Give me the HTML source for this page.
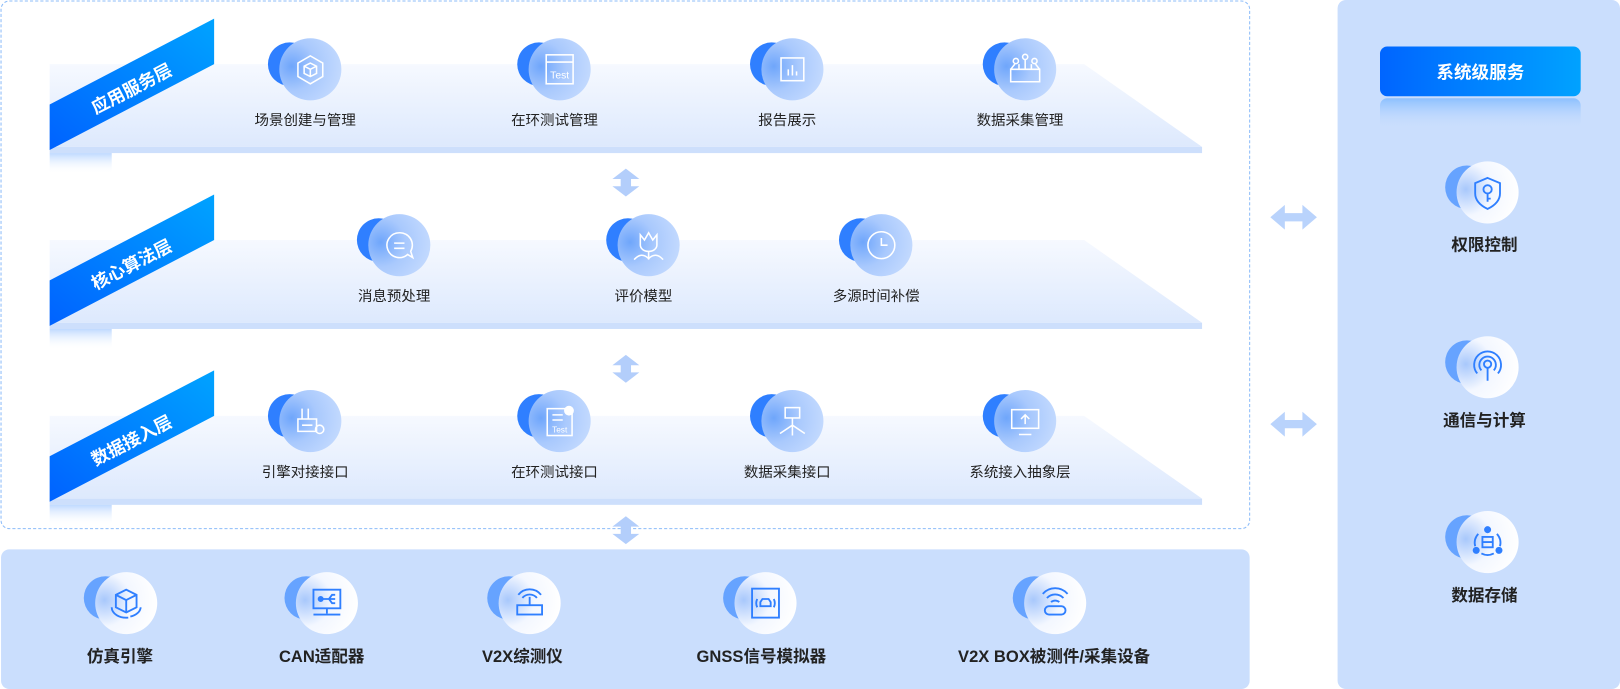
<!DOCTYPE html>
<html><head><meta charset="utf-8"><style>
html,body{margin:0;padding:0;background:#fff;width:1620px;height:689px;overflow:hidden}
svg{display:block}
text{font-family:"Liberation Sans","Noto Sans CJK SC",sans-serif}
</style></head><body>
<svg width="1620" height="689" viewBox="0 0 1566 666" preserveAspectRatio="none" xmlns="http://www.w3.org/2000/svg">
<defs>
<linearGradient id="band" x1="0" y1="0" x2="0" y2="1"><stop offset="0" stop-color="#f6f9ff"/><stop offset="1" stop-color="#dde9fd"/></linearGradient>
<linearGradient id="rib" x1="0" y1="1" x2="1" y2="0"><stop offset="0" stop-color="#0062ff"/><stop offset="1" stop-color="#00a3ff"/></linearGradient>
<linearGradient id="ribfade" x1="0" y1="0" x2="0" y2="1"><stop offset="0" stop-color="#7fb4ff"/><stop offset="1" stop-color="#ffffff" stop-opacity="0"/></linearGradient>
<linearGradient id="btn" x1="0" y1="0" x2="1" y2="0"><stop offset="0" stop-color="#0065ff"/><stop offset="1" stop-color="#00a2ff"/></linearGradient>
<linearGradient id="btnr" x1="0" y1="0" x2="0" y2="1"><stop offset="0" stop-color="#8cc0ff"/><stop offset="1" stop-color="#cadefd" stop-opacity="0"/></linearGradient>
<radialGradient id="fcL" cx="0.2" cy="0.45" r="0.8"><stop offset="0" stop-color="#6fa6fb"/><stop offset="0.5" stop-color="#a9c9fd"/><stop offset="1" stop-color="#c2d9fe"/></radialGradient>
<radialGradient id="fcW" cx="0.15" cy="0.45" r="0.85"><stop offset="0" stop-color="#a8c8fc"/><stop offset="0.5" stop-color="#f3f7ff"/><stop offset="1" stop-color="#ffffff"/></radialGradient>
<g id="varr"><polygon points="13,0 26,10 18,10 18,17 26,17 13,27 0,17 8,17 8,10 0,10" fill="#b3cefb"/></g>
<g id="harr"><polygon points="0,12 14,0 14,8 31,8 31,0 45,12 31,24 31,16 14,16 14,24" fill="#b9d3fc"/></g>
</defs>

<!-- dashed container -->
<rect x="1" y="1" width="1207" height="510" rx="8" fill="none" stroke="#8cbcf9" stroke-dasharray="3,2"/>

<!-- bands -->
<g id="b1">
<polygon points="48,62 1048,62 1162,142 48,142" fill="url(#band)"/>
<rect x="48" y="142" width="1114" height="6" fill="#cddffc"/>
<rect x="48" y="148" width="60" height="20" fill="url(#ribfade)" opacity="0.5"/>
<polygon points="48,101 207,18 207,62 48,145" fill="url(#rib)"/>
<text x="0" y="0" transform="translate(130,91) rotate(-27.5)" text-anchor="middle" font-size="17" font-weight="bold" fill="#fff">应用服务层</text>
</g>
<g transform="translate(0,170)">
<polygon points="48,62 1048,62 1162,142 48,142" fill="url(#band)"/>
<rect x="48" y="142" width="1114" height="6" fill="#cddffc"/>
<rect x="48" y="148" width="60" height="20" fill="url(#ribfade)" opacity="0.5"/>
<polygon points="48,101 207,18 207,62 48,145" fill="url(#rib)"/>
<text x="0" y="0" transform="translate(130,91) rotate(-27.5)" text-anchor="middle" font-size="17" font-weight="bold" fill="#fff">核心算法层</text>
</g>
<g transform="translate(0,340)">
<polygon points="48,62 1048,62 1162,142 48,142" fill="url(#band)"/>
<rect x="48" y="142" width="1114" height="6" fill="#cddffc"/>
<rect x="48" y="148" width="60" height="20" fill="url(#ribfade)" opacity="0.5"/>
<polygon points="48,101 207,18 207,62 48,145" fill="url(#rib)"/>
<text x="0" y="0" transform="translate(130,91) rotate(-27.5)" text-anchor="middle" font-size="17" font-weight="bold" fill="#fff">数据接入层</text>
</g>

<!-- vertical arrows -->
<use href="#varr" x="592" y="163"/>
<use href="#varr" x="592" y="343"/>
<use href="#varr" x="592" y="499"/>
<!-- horizontal arrows -->
<use href="#harr" x="1228" y="198"/>
<use href="#harr" x="1228" y="398"/>

<!-- layer icons (blue style) -->
<g fill="none" stroke="#fff" stroke-width="1.5">
<g transform="translate(300,67)"><circle cx="-20" cy="-5" r="21" fill="#2f7fff" stroke="none"/><circle r="30" fill="url(#fcL)" stroke="none"/><polygon points="0,-13 12,-6 12,7 0,14 -12,7 -12,-6"/><path d="M-6,-3 L0,-6 L6,-3 L6,4 L0,7 L-6,4Z M-6,-3 L0,0 L6,-3 M0,0 V7"/></g>
<g transform="translate(541,67)"><circle cx="-20" cy="-5" r="21" fill="#2f7fff" stroke="none"/><circle r="30" fill="url(#fcL)" stroke="none"/><rect x="-13" y="-14" width="26" height="28"/><line x1="-13" y1="-7" x2="13" y2="-7"/><text x="0" y="9" text-anchor="middle" font-size="10" fill="#fff" stroke="none">Test</text></g>
<g transform="translate(766,67)"><circle cx="-20" cy="-5" r="21" fill="#2f7fff" stroke="none"/><circle r="30" fill="url(#fcL)" stroke="none"/><rect x="-11" y="-11" width="22" height="22"/><path d="M-4,6V0 M0,6V-4 M4,6V2"/></g>
<g transform="translate(991,67)"><circle cx="-20" cy="-5" r="21" fill="#2f7fff" stroke="none"/><circle r="30" fill="url(#fcL)" stroke="none"/><path d="M-14,0 H14 V12 H-14Z M-14,0 L-10,-5 M14,0 L10,-5 M-6,0V-5 M0,0V-9 M6,0V-5"/><circle cx="-9" cy="-8" r="2.5"/><circle cx="0" cy="-12" r="2.5"/><circle cx="9" cy="-8" r="2.5"/></g>

<g transform="translate(386,237)"><circle cx="-20" cy="-5" r="21" fill="#2f7fff" stroke="none"/><circle r="30" fill="url(#fcL)" stroke="none"/><path d="M0,-12 A12,12 0 1 0 8,9 L13,12 L11,6 A12,12 0 0 0 0,-12Z M-5,-2H5 M-5,3H5"/></g>
<g transform="translate(627,237)"><circle cx="-20" cy="-5" r="21" fill="#2f7fff" stroke="none"/><circle r="30" fill="url(#fcL)" stroke="none"/><path d="M-8,-10 L-4,-5 L0,-12 L4,-5 L8,-10 V0 A8,6 0 0 1 -8,0Z M0,6V14 M-14,14 Q-7,6 0,13 Q7,6 14,14"/></g>
<g transform="translate(852,237)"><circle cx="-20" cy="-5" r="21" fill="#2f7fff" stroke="none"/><circle r="30" fill="url(#fcL)" stroke="none"/><circle r="13"/><path d="M0,-7 V0 H6"/></g>

<g transform="translate(300,407)"><circle cx="-20" cy="-5" r="21" fill="#2f7fff" stroke="none"/><circle r="30" fill="url(#fcL)" stroke="none"/><path d="M-12,-2 H6 V10 H-12Z M-8,-2V-12 M-2,-2V-12 M-8,4H2"/><circle cx="9" cy="8" r="4"/></g>
<g transform="translate(541,407)"><circle cx="-20" cy="-5" r="21" fill="#2f7fff" stroke="none"/><circle r="30" fill="url(#fcL)" stroke="none"/><rect x="-12" y="-12" width="24" height="26"/><path d="M-7,-6H3 M-7,-1H3"/><circle cx="9" cy="-10" r="4" fill="#fff"/><text x="0" y="11" text-anchor="middle" font-size="8" fill="#fff" stroke="none">Test</text></g>
<g transform="translate(766,407)"><circle cx="-20" cy="-5" r="21" fill="#2f7fff" stroke="none"/><circle r="30" fill="url(#fcL)" stroke="none"/><rect x="-7" y="-13" width="14" height="10"/><path d="M0,-3V14 M0,4 L-12,12 M0,4 L12,12"/></g>
<g transform="translate(991,407)"><circle cx="-20" cy="-5" r="21" fill="#2f7fff" stroke="none"/><circle r="30" fill="url(#fcL)" stroke="none"/><rect x="-13" y="-11" width="26" height="18"/><path d="M0,3V-6 M-4,-2 L0,-6 L4,-2 M-6,13H6"/></g>
</g>

<!-- layer labels -->
<g font-size="14" fill="#222" text-anchor="middle">
<text x="295" y="121">场景创建与管理</text>
<text x="536" y="121">在环测试管理</text>
<text x="761" y="121">报告展示</text>
<text x="986" y="121">数据采集管理</text>
<text x="381" y="291">消息预处理</text>
<text x="622" y="291">评价模型</text>
<text x="847" y="291">多源时间补偿</text>
<text x="295" y="461">引擎对接接口</text>
<text x="536" y="461">在环测试接口</text>
<text x="761" y="461">数据采集接口</text>
<text x="986" y="461">系统接入抽象层</text>
</g>

<!-- bottom panel -->
<rect x="1" y="531" width="1207" height="135" rx="8" fill="#cadefd"/>
<!-- right panel -->
<rect x="1293" y="0" width="273" height="666" rx="8" fill="#cadefd"/>
<rect x="1334" y="45" width="194" height="48" rx="7" fill="url(#btn)"/>
<rect x="1334" y="95" width="194" height="30" rx="7" fill="url(#btnr)"/>
<text x="1431" y="76" text-anchor="middle" font-size="17" font-weight="bold" fill="#fff">系统级服务</text>

<g fill="none" stroke="#2f7fff" stroke-width="1.8">
<g transform="translate(122,583)"><circle cx="-20" cy="-5" r="21" fill="#66a3ff" stroke="none"/><circle r="30" fill="url(#fcW)" stroke="none"/><path d="M0,-13 L10,-8 V4 L0,9 L-10,4 V-8Z M-10,-8 L0,-3 L10,-8 M0,-3V9"/><path d="M-14,4 A14,10 0 0 0 2,14 M14,4 A14,10 0 0 1 4,13"/></g>
<g transform="translate(316,583)"><circle cx="-20" cy="-5" r="21" fill="#66a3ff" stroke="none"/><circle r="30" fill="url(#fcW)" stroke="none"/><rect x="-13" y="-13" width="26" height="18"/><path d="M0,5V10 M-13,11H13 M-6,-4H8 M2,-4 L5,-8 H8 M2,-4 L5,0 H8"/><circle cx="-6" cy="-4" r="2" fill="#2f7fff"/></g>
<g transform="translate(512,583)"><circle cx="-20" cy="-5" r="21" fill="#66a3ff" stroke="none"/><circle r="30" fill="url(#fcW)" stroke="none"/><rect x="-12" y="2" width="24" height="9"/><path d="M0,2V-6 M-7,-5 A9,9 0 0 1 7,-5 M-11,-8 A14,14 0 0 1 11,-8"/></g>
<g transform="translate(740,583)"><circle cx="-20" cy="-5" r="21" fill="#66a3ff" stroke="none"/><circle r="30" fill="url(#fcW)" stroke="none"/><rect x="-13" y="-14" width="26" height="28"/><path d="M-5,3 V-1 L-3,-4 H3 L5,-1 V3Z M-8,-4 Q-10,0 -8,4 M8,-4 Q10,0 8,4"/></g>
<g transform="translate(1020,583)"><circle cx="-20" cy="-5" r="21" fill="#66a3ff" stroke="none"/><circle r="30" fill="url(#fcW)" stroke="none"/><rect x="-10" y="3" width="20" height="8" rx="4"/><path d="M-4,-1 A6,6 0 0 1 4,-1 M-8,-5 A11,11 0 0 1 8,-5 M-12,-9 A16,16 0 0 1 12,-9"/></g>

<g transform="translate(1438,186)"><circle cx="-20" cy="-5" r="21" fill="#66a3ff" stroke="none"/><circle r="30" fill="url(#fcW)" stroke="none"/><path d="M0,-14 L12,-9 V1 Q12,10 0,16 Q-12,10 -12,1 V-9Z"/><circle cx="0" cy="-3" r="4"/><path d="M0,1V9 M0,6H3"/></g>
<g transform="translate(1438,355)"><circle cx="-20" cy="-5" r="21" fill="#66a3ff" stroke="none"/><circle r="30" fill="url(#fcW)" stroke="none"/><circle cx="0" cy="-3" r="3.5"/><path d="M0,1V13 M-6,3 A8,8 0 1 1 6,3 M-10,6 A13,13 0 1 1 10,6"/></g>
<g transform="translate(1438,524)"><circle cx="-20" cy="-5" r="21" fill="#66a3ff" stroke="none"/><circle r="30" fill="url(#fcW)" stroke="none"/><rect x="-5" y="-5" width="10" height="10"/><path d="M-5,0H5 M-9,-8 A13,13 0 0 0 -12,4 M9,-8 A13,13 0 0 1 12,4 M-6,11 A13,13 0 0 0 6,11"/><circle cx="0" cy="-12" r="2.5" fill="#2f7fff"/><circle cx="-11" cy="8" r="2.5" fill="#2f7fff"/><circle cx="11" cy="8" r="2.5" fill="#2f7fff"/></g>
</g>

<g font-size="16" font-weight="bold" fill="#222" text-anchor="middle">
<text x="116" y="640">仿真引擎</text>
<text x="311" y="640">CAN适配器</text>
<text x="505" y="640">V2X综测仪</text>
<text x="736" y="640">GNSS信号模拟器</text>
<text x="1019" y="640">V2X BOX被测件/采集设备</text>
<text x="1435" y="242">权限控制</text>
<text x="1435" y="412">通信与计算</text>
<text x="1435" y="581">数据存储</text>
</g>
</svg>
</body></html>
